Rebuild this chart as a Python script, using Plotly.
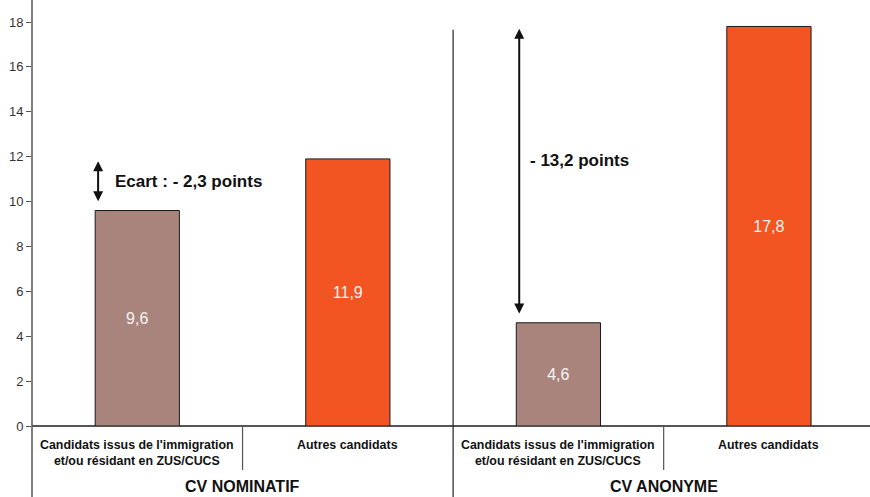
import plotly.graph_objects as go

# Taux de réponse positive (%) selon le type de CV
categories = [
    "Candidats issus de l'immigration<br>et/ou résidant en ZUS/CUCS",
    "Autres candidats",
    "Candidats issus de l'immigration<br>et/ou résidant en ZUS/CUCS",
    "Autres candidats",
]
values = [9.6, 11.9, 4.6, 17.8]
value_labels = ["9,6", "11,9", "4,6", "17,8"]
bar_colors = ["#A8847C", "#F25522", "#A8847C", "#F25522"]
groups = ["CV NOMINATIF", "CV ANONYME"]
gap_labels = ["Ecart : - 2,3 points", "- 13,2 points"]
y_ticks = [0, 2, 4, 6, 8, 10, 12, 14, 16, 18]

FONT = "Arial, 'Liberation Sans', sans-serif"
W, H = 870, 497
ML, MB = 32, 71
X0, X1 = -0.5, 3.48
Y1 = 18.98
AXIS = "#555555"
PLOT_H = H - MB

xs = list(range(len(values)))


def xpaper(v):
    return (v - X0) / (X1 - X0)


fig = go.Figure(
    go.Bar(
        x=xs,
        y=values,
        width=0.4,
        marker=dict(color=bar_colors, line=dict(color="#1a1a1a", width=1)),
        text=value_labels,
        textposition="inside",
        insidetextanchor="middle",
        textfont=dict(family=FONT, size=16, color="#F4F4F4"),
        hoverinfo="skip",
    )
)

shapes = []
# y axis extended down through the label area
shapes.append(dict(type="line", xref="paper", yref="paper", x0=0, x1=0,
                   y0=-MB / PLOT_H - 0.01, y1=1, line=dict(color=AXIS, width=1.5)))
# separator between the two groups
shapes.append(dict(type="line", xref="paper", yref="paper",
                   x0=xpaper(1.5), x1=xpaper(1.5), y0=-0.2, y1=0.93,
                   line=dict(color="#222222", width=1.2)))
# separators between category labels
for b in (0.5, 2.5):
    shapes.append(dict(type="line", xref="paper", yref="paper",
                       x0=xpaper(b), x1=xpaper(b), y0=0, y1=-44 / PLOT_H,
                       line=dict(color=AXIS, width=1.2)))

annotations = []
for i, cat in enumerate(categories):
    annotations.append(dict(x=i, y=-10 / PLOT_H, xref="x", yref="paper",
                            text="<b>" + cat + "</b>", showarrow=False,
                            yanchor="top", font=dict(family=FONT, size=12.4, color="#111111")))
for g, name in enumerate(groups):
    annotations.append(dict(x=2 * g + 0.5, y=-60 / PLOT_H, xref="x", yref="paper",
                            text="<b>" + name + "</b>", showarrow=False,
                            yanchor="middle", font=dict(family=FONT, size=16, color="#111111")))

# double-headed arrows showing the gap between the two bars of each group
arrow_x = -0.186
gaps = [(values[0], values[1]), (values[2], values[3])]
text_y = [10.9, 11.85]
text_dx = [0.07, 0.043]
for g, (low, high) in enumerate(gaps):
    ax = 2 * g + arrow_x
    annotations.append(dict(x=ax, y=high - 0.1, ax=ax, ay=low + 0.35,
                            xref="x", yref="y", axref="x", ayref="y",
                            text="", showarrow=True, arrowhead=2, arrowsize=1,
                            arrowwidth=2, arrowside="end+start", arrowcolor="#111111"))
    annotations.append(dict(x=ax + text_dx[g], y=text_y[g], xref="x", yref="y",
                            text="<b>" + gap_labels[g] + "</b>", showarrow=False,
                            xanchor="left", yanchor="middle",
                            font=dict(family=FONT, size=17, color="#111111")))

fig.update_layout(
    width=W,
    height=H,
    margin=dict(l=ML, r=0, t=0, b=MB),
    paper_bgcolor="white",
    plot_bgcolor="white",
    showlegend=False,
    shapes=shapes,
    annotations=annotations,
    xaxis=dict(range=[X0, X1], showticklabels=False, ticks="", showgrid=False,
               zeroline=False, showline=False, fixedrange=True),
    yaxis=dict(range=[0, Y1], tickvals=y_ticks, ticktext=[str(t) for t in y_ticks],
               ticks="outside", ticklen=5, tickcolor=AXIS, tickwidth=1,
               showgrid=False, zeroline=True, zerolinecolor=AXIS, zerolinewidth=1.5,
               showline=False, tickfont=dict(family=FONT, size=13, color="#333333"),
               fixedrange=True),
)

fig.write_html("out.html")
